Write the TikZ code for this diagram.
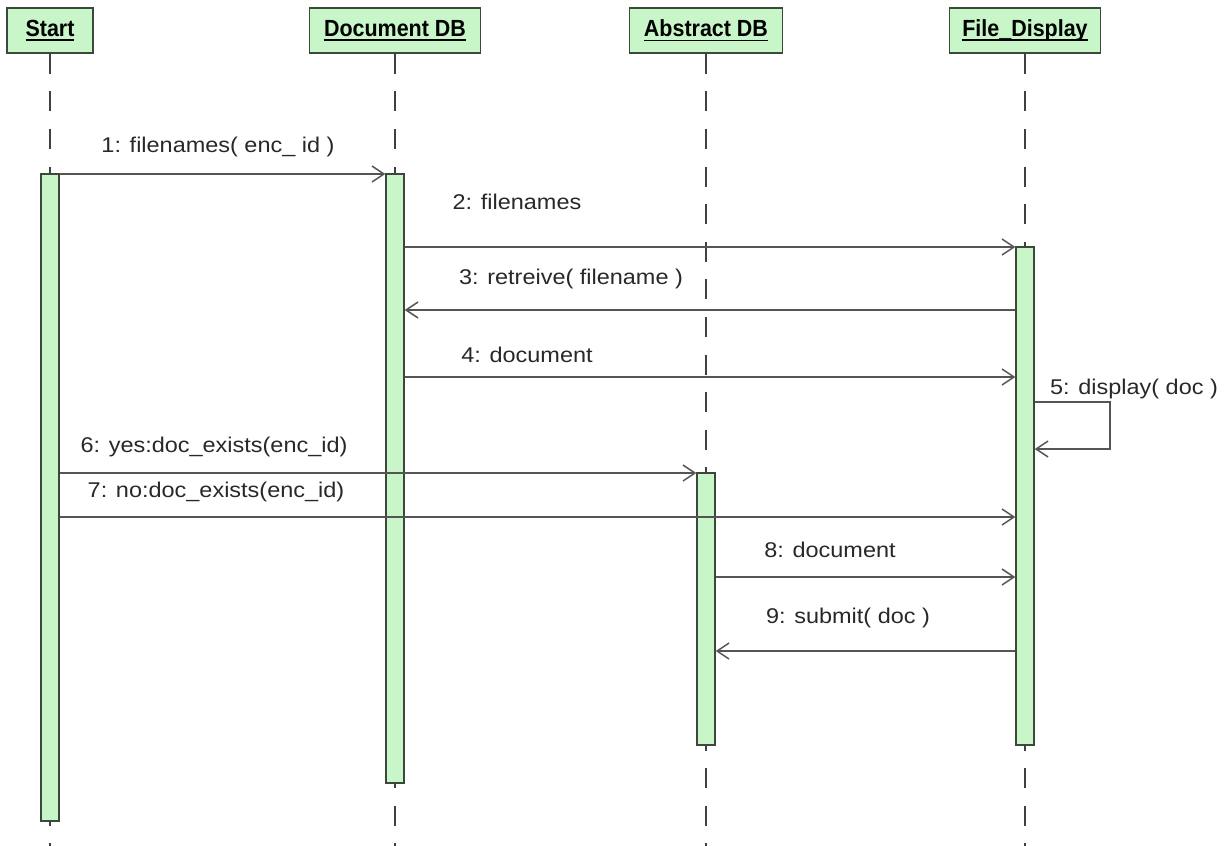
\documentclass[tikz,border=0pt]{standalone}
\usepackage{fontspec}
\setmainfont{Liberation Sans}
\newfontfamily\msgfont[FakeStretch=1.1]{Liberation Sans}
\newfontfamily\headfont[FakeStretch=0.92]{Liberation Sans}
\usetikzlibrary{arrows.meta,fit}
\definecolor{actfill}{RGB}{200,246,200}
\definecolor{actline}{RGB}{60,72,60}
\definecolor{msgline}{RGB}{85,85,85}
\definecolor{txt}{RGB}{40,40,40}

% underline at a fixed depth, independent of descenders
\newcommand\headul[1]{\setbox0\hbox{#1}\rlap{\rule[-3.2pt]{\wd0}{1.1pt}}\box0}

\begin{document}
\begin{tikzpicture}[x=0.75pt,y=-0.75pt,
  head/.style={draw=actline, fill=actfill, line width=1.2pt, inner sep=0,
    minimum height=33.75pt, font=\headfont\fontsize{17.5}{19}\selectfont\bfseries, text=black},
  bar/.style={draw=actline, fill=actfill, line width=1.1pt, inner sep=0},
  life/.style={draw=black!75, line width=0.8pt, dash pattern=on 15pt off 13.2pt},
  msg/.style={draw=msgline, line width=1.1pt,
    -{Straight Barb[length=9pt,width=12pt]}},
  lbl/.style={font=\msgfont\fontsize{16}{18}\selectfont, text=txt, inner sep=0}]

\useasboundingbox (0,0) rectangle (1228,846);

% object headers
\node[head, minimum width=64.5pt]  (hS) at (50,30.5)  {\headul{Start}};
\node[head, minimum width=128.25pt] (hD) at (395,30.5) {\headul{Document DB}};
\node[head, minimum width=114.75pt] (hA) at (706,30.5) {\headul{Abstract DB}};
\node[head, minimum width=113.25pt] (hF) at (1025,30.5) {\headul{File\_Display}};

% lifelines
\coordinate (bottom) at (0,846);
\foreach \h in {hS,hD,hA,hF}
  \draw[life] (\h.south) -- (\h.south |- bottom);

% activation bars
\node[bar, fit={(41,174) (59,821)}]   (barS) {};
\node[bar, fit={(386,174) (404,783)}] (barD) {};
\node[bar, fit={(697,473) (715,745)}] (barA) {};
\node[bar, fit={(1016,247) (1034,745)}] (barF) {};

% message levels
\coordinate (m1) at (0,174);
\coordinate (m2) at (0,247);
\coordinate (m3) at (0,310);
\coordinate (m4) at (0,377);
\coordinate (m5a) at (0,402);
\coordinate (m5b) at (0,449);
\coordinate (m6) at (0,473);
\coordinate (m7) at (0,517);
\coordinate (m8) at (0,577);
\coordinate (m9) at (0,651);
\coordinate (selfx) at (1110,0);

% messages
\draw[msg] (barS.east |- m1) -- (barD.west |- m1);
\draw[msg] (barD.east |- m2) -- (barF.west |- m2);
\draw[msg] (barF.west |- m3) -- (barD.east |- m3);
\draw[msg] (barD.east |- m4) -- (barF.west |- m4);
\draw[msg] (barF.east |- m5a) -| (selfx |- m5b) -- (barF.east |- m5b);
\draw[msg] (barS.east |- m6) -- (barA.west |- m6);
\draw[msg] (barS.east |- m7) -- (barF.west |- m7);
\draw[msg] (barA.east |- m8) -- (barF.west |- m8);
\draw[msg] (barF.west |- m9) -- (barA.east |- m9);

% message labels
\node[lbl] (l1) at (218,147) {1: filenames( enc\_ id )};
\node[lbl] (l2) at (517,202) {2: filenames};
\node[lbl] (l3) at (571,279) {3: retreive( filename )};
\node[lbl] (l4) at (527,355) {4: document};
\node[lbl] (l5) at (1134,389) {5: display( doc )};
\node[lbl] (l6) at (214,447) {6: yes:doc\_exists(enc\_id)};
\node[lbl] (l7) at (216,492) {7: no:doc\_exists(enc\_id)};
\node[lbl] (l8) at (830,550) {8: document};
\node[lbl] (l9) at (848,618) {9: submit( doc )};
\end{tikzpicture}
\end{document}
